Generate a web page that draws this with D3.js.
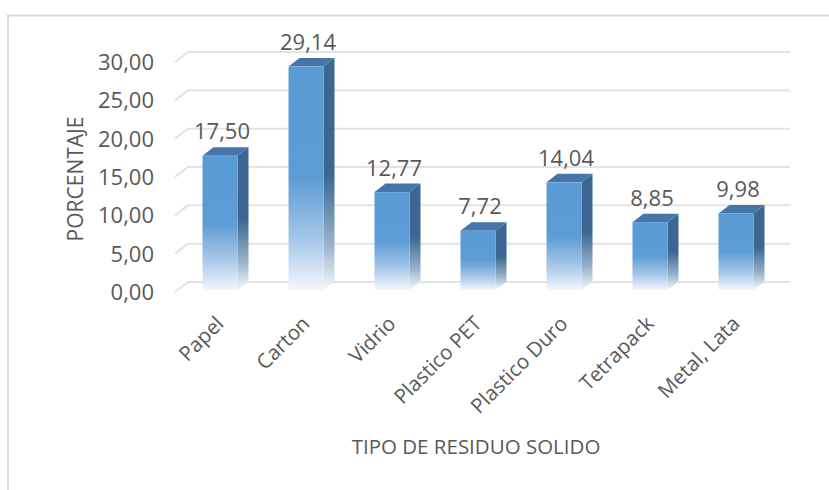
<!DOCTYPE html>
<html>
<head>
<meta charset="utf-8">
<script src="https://cdn.jsdelivr.net/npm/d3@7"></script>
<style>
  html, body { margin: 0; padding: 0; background: #fff; }
  svg { display: block; }
  text { font-family: "Open Sans", "Noto Sans", sans-serif; fill: #595959; }
</style>
</head>
<body>
<div id="chart"></div>
<script>
// Residuos sólidos por tipo (porcentaje)
const categories = ["Papel", "Carton", "Vidrio", "Plastico PET", "Plastico Duro", "Tetrapack", "Metal, Lata"];
const values = [17.50, 29.14, 12.77, 7.72, 14.04, 8.85, 9.98];
const yTicks = [0, 5, 10, 15, 20, 25, 30];
const xTitle = "TIPO DE RESIDUO SOLIDO";
const yTitle = "PORCENTAJE";

const W = 829, H = 490;
const svg = d3.select("#chart").append("svg").attr("width", W).attr("height", H);

// chart frame
svg.append("path")
  .attr("d", "M8,490 L8,15.5 L829,15.5")
  .attr("fill", "none").attr("stroke", "#d9d9d9").attr("stroke-width", 2);

const y = d3.scaleLinear().domain([0, 30]).range([292, 62]);
const x = d3.scaleBand().domain(categories).range([175, 777]).padding(0);

// 3D geometry
const floorDx = 13, floorDy = -10;   // depth of the floor / grid
const offX = 2, offY = -2;           // front plane of bars
const barDx = 11, barDy = -8.5;      // depth of each bar
const barW = 35;

const fmt = v => d3.format(".2f")(v).replace(".", ",");

// gradients
const defs = svg.append("defs");
function grad(id, stops) {
  const g = defs.append("linearGradient").attr("id", id)
    .attr("x1", 0).attr("y1", 0).attr("x2", 0).attr("y2", 1);
  stops.forEach(([o, c]) => g.append("stop").attr("offset", o).attr("stop-color", c));
}
grad("gFront", [[0, "#5b9bd5"], [0.5, "#5d9cd5"], [0.78, "#a8c8e9"], [1, "#f3f7fc"]]);
grad("gSide", [[0, "#3b6792"], [0.5, "#3b6792"], [0.8, "#98b2cb"], [1, "#f5f8fb"]]);

// gridlines
const grid = svg.append("g");
yTicks.forEach(t => {
  const yy = y(t);
  grid.append("path")
    .attr("d", `M175,${yy} L${175 + floorDx},${yy + floorDy} L790,${yy + floorDy}`)
    .attr("fill", "none").attr("stroke", "#e3e3e3").attr("stroke-width", 2);
});

// y tick labels
svg.append("g").selectAll("text").data(yTicks).join("text")
  .attr("x", 154).attr("y", d => y(d)).attr("dy", "0.36em")
  .attr("text-anchor", "end").attr("font-size", 22)
  .text(d => fmt(d));

// bars
const bars = svg.append("g").selectAll("g").data(categories).join("g");
bars.each(function (c, i) {
  const g = d3.select(this);
  const v = values[i];
  const cx = x(c) + x.bandwidth() / 2;
  const x0 = cx - barW / 2 + offX, x1 = x0 + barW;
  const yTop = y(v) + offY, yBot = y(0) + offY;
  // side face
  g.append("path")
    .attr("d", `M${x1},${yTop} L${x1 + barDx},${yTop + barDy} L${x1 + barDx},${yBot + barDy} L${x1},${yBot} Z`)
    .attr("fill", "url(#gSide)");
  // top face
  g.append("path")
    .attr("d", `M${x0},${yTop} L${x0 + barDx},${yTop + barDy} L${x1 + barDx},${yTop + barDy} L${x1},${yTop} Z`)
    .attr("fill", "#4676a8");
  // front face
  g.append("rect")
    .attr("x", x0).attr("y", yTop).attr("width", barW).attr("height", yBot - yTop)
    .attr("fill", "url(#gFront)");
  // value label
  g.append("text")
    .attr("x", cx + offX + 2).attr("y", yTop + barDy - 8)
    .attr("text-anchor", "middle").attr("font-size", 22)
    .text(fmt(v));
});

// category labels
svg.append("g").selectAll("text").data(categories).join("text")
  .attr("text-anchor", "end").attr("font-size", 20.5)
  .attr("transform", c => `translate(${x(c) + x.bandwidth() / 2 + 7},${325}) rotate(-45)`)
  .text(c => c);

// axis titles
svg.append("text")
  .attr("transform", "translate(83,179) rotate(-90)")
  .attr("text-anchor", "middle").attr("font-size", 21)
  .text(yTitle);

svg.append("text")
  .attr("x", 476).attr("y", 454)
  .attr("text-anchor", "middle").attr("font-size", 20.5)
  .text(xTitle);
</script>
</body>
</html>
